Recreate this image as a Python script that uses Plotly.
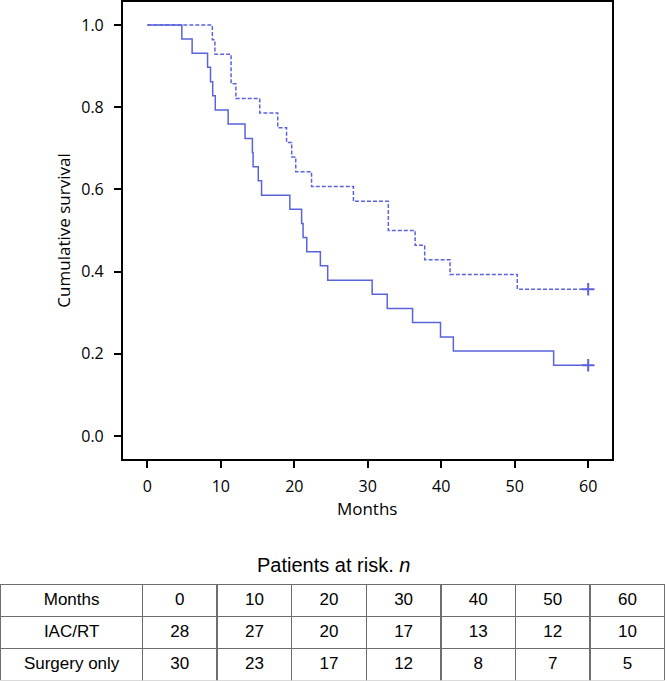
import plotly.graph_objects as go

# ---- data ----
months_iac = [0, 8.85, 9.2, 11.4, 12.05, 15.3, 17.75, 18.95, 19.65, 20.2, 22.35, 28.05,
              32.8, 36.45, 37.75, 41.2, 50.35, 60]
surv_iac = [1.0, 0.964, 0.929, 0.857, 0.821, 0.786, 0.750, 0.714, 0.679, 0.643, 0.607, 0.571,
            0.500, 0.464, 0.429, 0.393, 0.357, 0.357]

months_surg = [0, 4.7, 6.1, 8.2, 8.6, 8.9, 9.25, 11.0, 13.3, 14.3, 14.4, 15.1, 15.55, 19.4,
               21.0, 21.2, 21.7, 23.55, 24.55, 30.6, 32.65, 36.1, 39.9, 41.65, 55.3, 60]
surv_surg = [1.0, 0.966, 0.931, 0.897, 0.862, 0.828, 0.793, 0.759, 0.724, 0.690, 0.655, 0.621,
             0.586, 0.552, 0.517, 0.483, 0.448, 0.414, 0.379, 0.345, 0.310, 0.276, 0.241,
             0.207, 0.172, 0.172]

censor_iac_t = [60]
censor_iac_s = [0.357]
censor_surg_t = [60]
censor_surg_s = [0.172]

risk_months = ["0", "10", "20", "30", "40", "50", "60"]
risk_iac = [28, 27, 20, 17, 13, 12, 10]
risk_surg = [30, 23, 17, 12, 8, 7, 5]
group_names = ["IAC/RT", "Surgery only"]

x_ticks = [0, 10, 20, 30, 40, 50, 60]
y_ticks = [0.0, 0.2, 0.4, 0.6, 0.8, 1.0]

# ---- style ----
W, H = 667, 681
BLUE = "#5a63dc"
TICKFONT = dict(family="'Open Sans', Lato, sans-serif", size=16, color="black")
TITLEFONT = dict(family="'Open Sans', Lato, sans-serif", size=17, color="black")
TABFONT = dict(family="'Liberation Sans', Arial, sans-serif", size=17, color="black")

fig = go.Figure()

fig.add_trace(go.Scatter(x=months_iac, y=surv_iac, mode="lines", line_shape="hv",
                         line=dict(color=BLUE, width=1.5, dash="4px,2px"),
                         name="IAC/RT", hoverinfo="skip"))
fig.add_trace(go.Scatter(x=months_surg, y=surv_surg, mode="lines", line_shape="hv",
                         line=dict(color=BLUE, width=1.5),
                         name="Surgery only", hoverinfo="skip"))
fig.add_trace(go.Scatter(x=censor_iac_t + censor_surg_t, y=censor_iac_s + censor_surg_s,
                         mode="markers",
                         marker=dict(symbol="cross-thin", size=9,
                                     line=dict(color=BLUE, width=2)),
                         hoverinfo="skip"))

header_vals = ["Months"] + risk_months
cell_cols = [group_names] + [[str(a), str(b)] for a, b in zip(risk_iac, risk_surg)]

fig.add_trace(go.Table(
    domain=dict(x=[0.7 / W, 664.7 / W], y=[0, (H - 584.3) / H]),
    columnwidth=[142] + [74.7] * len(risk_months),
    header=dict(values=header_vals, height=32, align="center",
                fill_color="white", line=dict(color="#6e6e6e", width=1.5),
                font=TABFONT),
    cells=dict(values=cell_cols, height=32, align="center",
               fill_color="white", line=dict(color="#6e6e6e", width=1.5),
               font=TABFONT),
))

fig.add_annotation(text="Patients at risk. <i>n</i>", xref="paper", yref="paper",
                   x=333 / W, y=1 - 565 / H, xanchor="center", yanchor="middle",
                   showarrow=False,
                   font=dict(family="'Liberation Sans', Arial, sans-serif", size=20, color="black"))

fig.update_layout(
    width=W, height=H,
    margin=dict(l=0, r=0, t=0, b=0),
    paper_bgcolor="white", plot_bgcolor="white",
    showlegend=False,
    xaxis=dict(domain=[122.7 / W, 611.7 / W], range=[-3.35, 63.2],
               tickvals=x_ticks, ticks="outside", ticklen=7, tickwidth=1.5,
               tickcolor="black", showline=True, linecolor="black", linewidth=1.5,
               mirror=True, showgrid=False, zeroline=False, tickfont=TICKFONT,
               ticklabelstandoff=5,
               title=dict(text="Months", font=TITLEFONT, standoff=2)),
    yaxis=dict(domain=[1 - 459.3 / H, 1 - 1.7 / H], range=[-0.0567, 1.0567],
               tickvals=y_ticks, tickformat=".1f", ticks="outside", ticklen=7,
               tickwidth=1.5, tickcolor="black", showline=True, linecolor="black",
               linewidth=1.5, mirror=True, showgrid=False, zeroline=False,
               tickfont=TICKFONT, ticklabelstandoff=7,
               title=dict(text="Cumulative survival", font=TITLEFONT, standoff=6)),
)

fig.write_html("out.html", config={"displayModeBar": False},
               post_script="document.body.style.margin='0';document.body.style.overflow='hidden';")
